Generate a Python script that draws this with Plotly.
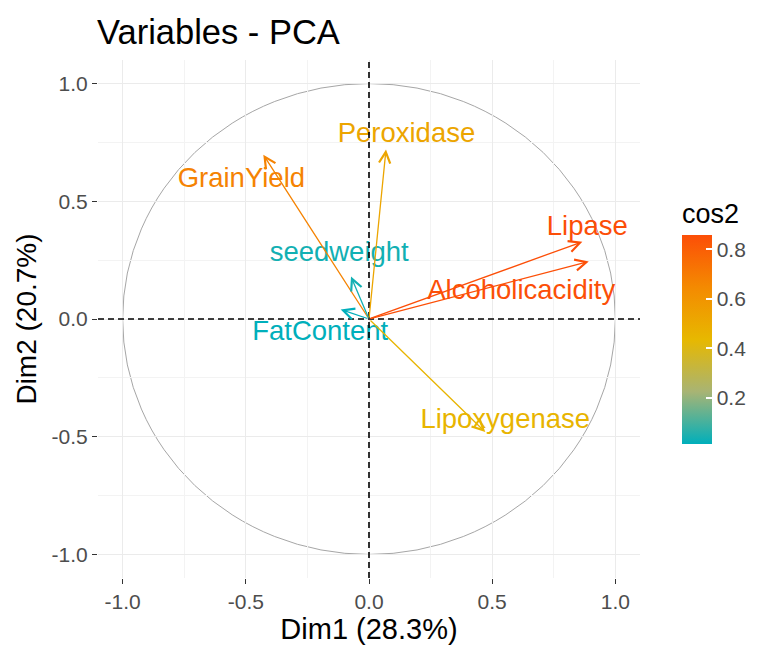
import plotly.graph_objects as go

variables = ["Peroxidase", "GrainYield", "seedweight", "FatContent", "Lipase", "Alcoholicacidity", "Lipoxygenase"]
dim1 = [0.069, -0.429, -0.073, -0.115, 0.866, 0.892, 0.472]
dim2 = [0.720, 0.698, 0.180, 0.040, 0.328, 0.244, -0.480]
label_x = [0.152, -0.518, -0.121, -0.198, 0.886, 0.618, 0.553]
label_y = [0.780, 0.590, 0.274, -0.062, 0.385, 0.113, -0.432]
cos2 = [a * a + b * b for a, b in zip(dim1, dim2)]
tick_vals = [-1.0, -0.5, 0.0, 0.5, 1.0]
tick_text = ["-1.0", "-0.5", "0.0", "0.5", "1.0"]
cbar_ticks = [0.2, 0.4, 0.6, 0.8]

FONT = "Liberation Sans, Arial, sans-serif"

stops = [(0.0, (0, 175, 187)), (0.25, (168, 180, 116)), (0.5, (231, 184, 0)),
         (0.75, (244, 138, 1)), (1.0, (252, 78, 7))]
colorscale = [[p, "rgb(%d,%d,%d)" % c] for p, c in stops]
cmin, cmax = min(cos2), max(cos2)


def color_for(v):
    t = (v - cmin) / (cmax - cmin)
    for (p0, c0), (p1, c1) in zip(stops[:-1], stops[1:]):
        if t <= p1:
            f = (t - p0) / (p1 - p0) if p1 > p0 else 0
            return "rgb(%d,%d,%d)" % tuple(round(a + (b - a) * f) for a, b in zip(c0, c1))
    return "rgb(%d,%d,%d)" % stops[-1][1]


colors = [color_for(v) for v in cos2]

fig = go.Figure()

# labels
fig.add_trace(go.Scatter(
    x=label_x, y=label_y, mode="text", text=variables,
    textfont=dict(family=FONT, size=27.5, color=colors),
    hoverinfo="skip", showlegend=False))

# colorbar carrier
fig.add_trace(go.Scatter(
    x=dim1, y=dim2, mode="markers",
    marker=dict(size=0.1, opacity=0, color=cos2, colorscale=colorscale, cmin=cmin, cmax=cmax,
                showscale=True,
                colorbar=dict(
                    title=dict(text="cos2", side="top",
                               font=dict(family=FONT, size=27, color="black")),
                    thickness=30, len=244, lenmode="pixels",
                    x=1.0775, xanchor="left", y=0.2587, yanchor="bottom",
                    xpad=0, ypad=0, outlinewidth=0,
                    tickvals=cbar_ticks, ticktext=["%.1f" % t for t in cbar_ticks],
                    ticks="inside", tickcolor="white", ticklen=6, tickwidth=1.5,
                    tickfont=dict(family=FONT, size=21, color="#4D4D4D"))),
    hoverinfo="skip", showlegend=False))

# arrows
for x, y, c in zip(dim1, dim2, colors):
    fig.add_annotation(x=x, y=y, ax=0, ay=0, xref="x", yref="y", axref="x", ayref="y",
                       text="", showarrow=True, arrowhead=5, arrowsize=1.7, arrowwidth=1.3,
                       arrowcolor=c, standoff=0, startstandoff=0)

# circle and dashed axes
fig.add_shape(type="circle", xref="x", yref="y", x0=-1, y0=-1, x1=1, y1=1,
              line=dict(color="#A6A6A6", width=1), layer="below")
fig.add_shape(type="line", xref="paper", yref="y", x0=0, x1=1, y0=0, y1=0,
              line=dict(color="black", width=1.6, dash="6px,4px"))
fig.add_shape(type="line", xref="x", yref="paper", x0=0, x1=0, y0=0, y1=1,
              line=dict(color="black", width=1.6, dash="6px,4px"))

axis_common = dict(
    range=[-1.1, 1.1], tickvals=tick_vals, ticktext=tick_text,
    showgrid=True, gridcolor="#EBEBEB", gridwidth=1.3, zeroline=False,
    ticks="outside", ticklen=5, tickcolor="#333333", tickwidth=1.3,
    tickfont=dict(family=FONT, size=21, color="#4D4D4D"),
    minor=dict(dtick=0.25, tick0=0, showgrid=True, gridcolor="#F3F3F3", gridwidth=0.8),
    showline=False, fixedrange=True, automargin=False,
)

# the page body has an 8px margin; figure sized so the plot area lands where the reference has it
fig.update_layout(
    width=766, height=637,
    margin=dict(l=90, r=134, t=52, b=67),
    paper_bgcolor="white", plot_bgcolor="white",
    title=dict(text="Variables - PCA", x=89 / 766, xanchor="left", xref="container",
               y=1 - 24 / 637, yanchor="middle",
               font=dict(family=FONT, size=34.5, color="black")),
    xaxis=dict(axis_common,
               title=dict(text="Dim1 (28.3%)", standoff=4,
                          font=dict(family=FONT, size=29, color="black"))),
    yaxis=dict(axis_common,
               title=dict(text="Dim2 (20.7%)", standoff=6,
                          font=dict(family=FONT, size=28, color="black"))),
)

fig.write_html("out.html")
